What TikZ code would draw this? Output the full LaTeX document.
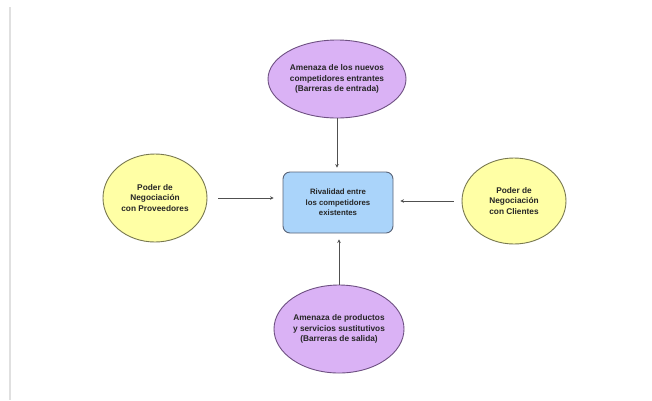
\documentclass[tikz,border=0pt]{standalone}
\usepackage{fontspec}
\setmainfont{Liberation Sans}
\usetikzlibrary{shapes.geometric,arrows.meta}
\definecolor{lav}{RGB}{218,178,245}
\definecolor{lavline}{RGB}{110,80,130}
\definecolor{ylw}{RGB}{255,255,165}
\definecolor{ylwline}{RGB}{120,120,80}
\definecolor{lblue}{RGB}{170,212,250}
\definecolor{bline}{RGB}{90,100,120}
\definecolor{arr}{RGB}{80,80,80}
\begin{document}
\begin{tikzpicture}[x=1pt,y=-1pt,
  lbl/.style={font=\fontsize{8.3}{10.5}\selectfont\bfseries, align=center, text=black!85},
  purp/.style={ellipse, draw=lavline, line width=0.9pt, fill=lav, lbl, inner sep=0pt},
  yel/.style={ellipse, draw=ylwline, line width=0.9pt, fill=ylw, lbl, inner sep=0pt},
  rbox/.style={rectangle, rounded corners=7pt, draw=bline, line width=0.9pt, fill=lblue, lbl, font=\fontsize{7.8}{10.5}\selectfont\bfseries},
  con/.style={draw=arr, line width=0.9pt, -{Stealth[length=3.5pt,width=3.5pt]}}]
\useasboundingbox (0,0) rectangle (652,400);
\fill[white] (0,0) rectangle (652,400);
\fill[black!12] (9,7) rectangle (11,400);
\node[purp, minimum width=138pt, minimum height=78pt] (top) at (337,79) {Amenaza de los nuevos\\competidores entrantes\\(Barreras de entrada)};
\node[yel, minimum width=104pt, minimum height=88pt] (left) at (155,198) {Poder de\\Negociación\\con Proveedores};
\node[yel, minimum width=104pt, minimum height=86pt] (right) at (514,201) {Poder de\\Negociación\\con Clientes};
\node[purp, minimum width=130pt, minimum height=88pt] (bot) at (339,329) {Amenaza de productos\\y servicios sustitutivos\\(Barreras de salida)};
\node[rbox, minimum width=110pt, minimum height=61pt] (mid) at (338,202.5) {Rivalidad entre\\los competidores\\existentes};
\draw[con, shorten <=11pt, shorten >=9pt] (left.east) -- (left.east -| mid.west);
\draw[con, shorten <=8pt, shorten >=7pt] (right.west) -- (right.west -| mid.east);
\draw[con, shorten >=4pt] (top.south) -- (top.south |- mid.north);
\draw[con, shorten >=6pt] (bot.north) -- (bot.north |- mid.south);
\end{tikzpicture}
\end{document}
